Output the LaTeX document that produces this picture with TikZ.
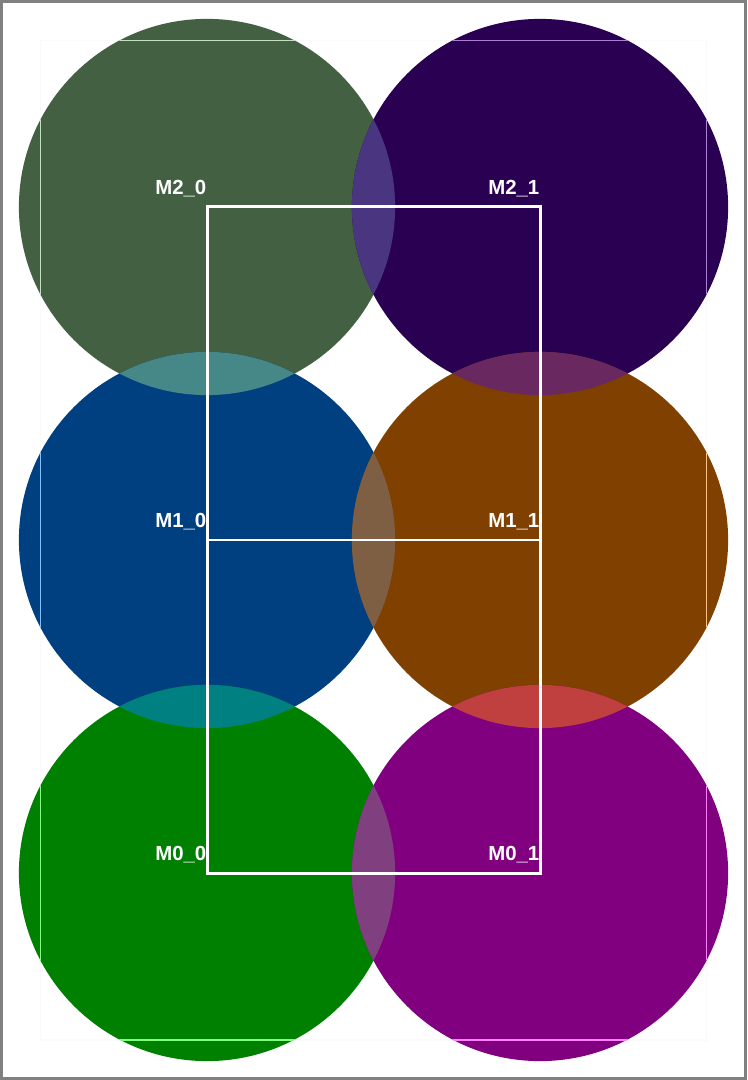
\documentclass[tikz,border=0pt]{standalone}
\usepackage{fontspec}
\setmainfont{Liberation Sans}
\usetikzlibrary{positioning}
% disc colours
\definecolor{mzerozero}{HTML}{008000}
\definecolor{mzeroone}{HTML}{800080}
\definecolor{monezero}{HTML}{004080}
\definecolor{moneone}{HTML}{804000}
\definecolor{mtwozero}{HTML}{436043}
\definecolor{mtwoone}{HTML}{2A0052}
% where two discs meet
\definecolor{lenstwo}{HTML}{4A3580}
\definecolor{lensone}{HTML}{7F5F44}
\definecolor{lenszero}{HTML}{804080}
\definecolor{lensleftup}{HTML}{468888}
\definecolor{lensrightup}{HTML}{6A2860}
\definecolor{lensleftdown}{HTML}{008080}
\definecolor{lensrightdown}{HTML}{C04040}
% faint guide frame, seen through each disc
\definecolor{guideout}{HTML}{FAFAFA}
\definecolor{guidezerozero}{HTML}{80FF80}
\definecolor{guidezeroone}{HTML}{FF80FF}
\definecolor{guideonezero}{HTML}{80C0FF}
\definecolor{guideoneone}{HTML}{FFC080}
\definecolor{guidetwozero}{HTML}{C2E0C2}
\definecolor{guidetwoone}{HTML}{AA80D2}

\begin{document}
\begin{tikzpicture}[
  x=0.01cm, y=-0.01cm,
  disc/.style={circle, minimum size=3.76cm, inner sep=0pt, draw=none},
  tag/.style={font=\fontsize{5.8}{7}\selectfont\bfseries, text=white, anchor=south east,
              inner xsep=0pt, inner ysep=0.09cm},
  gridline/.style={draw=white, line width=0.85pt},
  guide/.style={line width=0.3pt},
]
\useasboundingbox (0,0) rectangle (747,1080);
\fill[white] (0,0) rectangle (747,1080);
% guide frame and outer frame corners
\coordinate (gtl) at (40.5,40.5);
\coordinate (gbr) at (706.5,1040);
\coordinate (ftl) at (1.5,1.5);
\coordinate (fbr) at (745.5,1078.5);
\draw[guide, draw=guideout] (gtl) rectangle (gbr);
% discs
\node[disc, fill=mtwozero]  (m20) at (207,207) {};
\node[disc, fill=mtwoone]   (m21) at (540,207) {};
\node[disc, fill=monezero]  (m10) at (207,540) {};
\node[disc, fill=moneone]   (m11) at (540,540) {};
\node[disc, fill=mzerozero] (m00) at (207,873) {};
\node[disc, fill=mzeroone]  (m01) at (540,873) {};
% lenses
\begin{scope}\clip (m20) circle[radius=1.88cm]; \fill[lenstwo] (m21) circle[radius=1.88cm];\end{scope}
\begin{scope}\clip (m10) circle[radius=1.88cm]; \fill[lensone] (m11) circle[radius=1.88cm];\end{scope}
\begin{scope}\clip (m00) circle[radius=1.88cm]; \fill[lenszero] (m01) circle[radius=1.88cm];\end{scope}
\begin{scope}\clip (m20) circle[radius=1.88cm]; \fill[lensleftup] (m10) circle[radius=1.88cm];\end{scope}
\begin{scope}\clip (m21) circle[radius=1.88cm]; \fill[lensrightup] (m11) circle[radius=1.88cm];\end{scope}
\begin{scope}\clip (m10) circle[radius=1.88cm]; \fill[lensleftdown] (m00) circle[radius=1.88cm];\end{scope}
\begin{scope}\clip (m11) circle[radius=1.88cm]; \fill[lensrightdown] (m01) circle[radius=1.88cm];\end{scope}
% guide frame inside the discs
\begin{scope}\clip (m20) circle[radius=1.88cm]; \draw[guide, draw=guidetwozero] (gtl) rectangle (gbr);\end{scope}
\begin{scope}\clip (m21) circle[radius=1.88cm]; \draw[guide, draw=guidetwoone] (gtl) rectangle (gbr);\end{scope}
\begin{scope}\clip (m10) circle[radius=1.88cm]; \draw[guide, draw=guideonezero] (gtl) rectangle (gbr);\end{scope}
\begin{scope}\clip (m11) circle[radius=1.88cm]; \draw[guide, draw=guideoneone] (gtl) rectangle (gbr);\end{scope}
\begin{scope}\clip (m00) circle[radius=1.88cm]; \draw[guide, draw=guidezerozero] (gtl) rectangle (gbr);\end{scope}
\begin{scope}\clip (m01) circle[radius=1.88cm]; \draw[guide, draw=guidezeroone] (gtl) rectangle (gbr);\end{scope}
% mesh between the centres
\draw[gridline] (m20.center) rectangle (m01.center);
\draw[gridline] (m10.center) -- (m11.center);
% labels
\node[tag] (t20) at (m20) {M2\_0};
\node[tag] (t21) at (m21) {M2\_1};
\node[tag] (t10) at (m10) {M1\_0};
\node[tag] (t11) at (m11) {M1\_1};
\node[tag] (t00) at (m00) {M0\_0};
\node[tag] (t01) at (m01) {M0\_1};
% outer frame
\draw[draw=gray, line width=0.85pt] (ftl) rectangle (fbr);
\end{tikzpicture}
\end{document}
